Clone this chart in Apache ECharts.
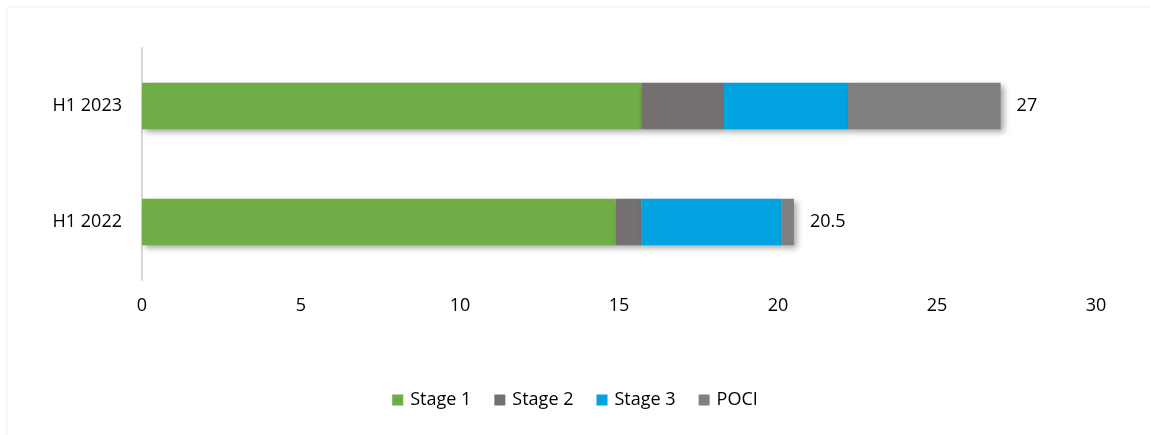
<!DOCTYPE html>
<html><head><meta charset="utf-8">
<script src="https://cdn.jsdelivr.net/npm/echarts@6/dist/echarts.min.js"></script>
<style>html,body{margin:0;padding:0;background:#fff}#c{width:1150px;height:435px}</style>
</head><body><div id="c"></div>
<script>
const categories = ['H1 2022', 'H1 2023'];
const stage1 = [14.9, 15.7];
const stage2 = [0.8, 2.6];
const stage3 = [4.4, 3.9];
const poci = [0.4, 4.8];
const totals = [20.5, 27];
const xTicks = [0, 5, 10, 15, 20, 25, 30];

const font = '"Open Sans", "Liberation Sans", sans-serif';
const shadow = {shadowBlur: 6, shadowOffsetX: 3, shadowOffsetY: 3, shadowColor: 'rgba(0,0,0,0.35)'};
function mk(name, data, color, last) {
  const s = {
    name, type: 'bar', stack: 'tot', data, barWidth: '40%',
    itemStyle: Object.assign({color}, shadow),
    emphasis: {disabled: true}
  };
  if (last) {
    s.label = {
      show: true, position: 'right', distance: 16,
      formatter: p => String(totals[p.dataIndex]),
      fontFamily: font, fontSize: 18, color: '#000'
    };
  }
  return s;
}
const chart = echarts.init(document.getElementById('c'), null, {renderer: 'canvas'});
chart.setOption({
  animation: false,
  graphic: [
    {type: 'line', shape: {x1: 7, y1: 7, x2: 1150, y2: 7}, style: {stroke: '#f7f7f7', lineWidth: 2}, silent: true},
    {type: 'line', shape: {x1: 7, y1: 7, x2: 7, y2: 435}, style: {stroke: '#f7f7f7', lineWidth: 2}, silent: true}
  ],
  grid: {left: 142, right: 54, top: 48, bottom: 155, containLabel: false},
  legend: {
    bottom: 21, left: 'center', itemWidth: 11, itemHeight: 11, itemGap: 23,
    icon: 'rect',
    textStyle: {fontFamily: font, fontSize: 18, color: '#000', padding: [0, 0, 0, 2]},
    data: ['Stage 1', 'Stage 2', 'Stage 3', 'POCI']
  },
  xAxis: {
    type: 'value', min: xTicks[0], max: xTicks[xTicks.length - 1], interval: 5,
    axisLine: {show: false}, axisTick: {show: false}, splitLine: {show: false},
    axisLabel: {fontFamily: font, fontSize: 18, color: '#000', margin: 17}
  },
  yAxis: {
    type: 'category', data: categories,
    axisLine: {show: true, lineStyle: {color: '#d9d9d9', width: 2}},
    axisTick: {show: false},
    axisLabel: {fontFamily: font, fontSize: 18, color: '#000', margin: 20}
  },
  series: [
    mk('Stage 1', stage1, '#70AD47'),
    mk('Stage 2', stage2, '#767171'),
    mk('Stage 3', stage3, '#00A3E0'),
    mk('POCI', poci, '#7F7F7F', true)
  ]
});
</script></body></html>
